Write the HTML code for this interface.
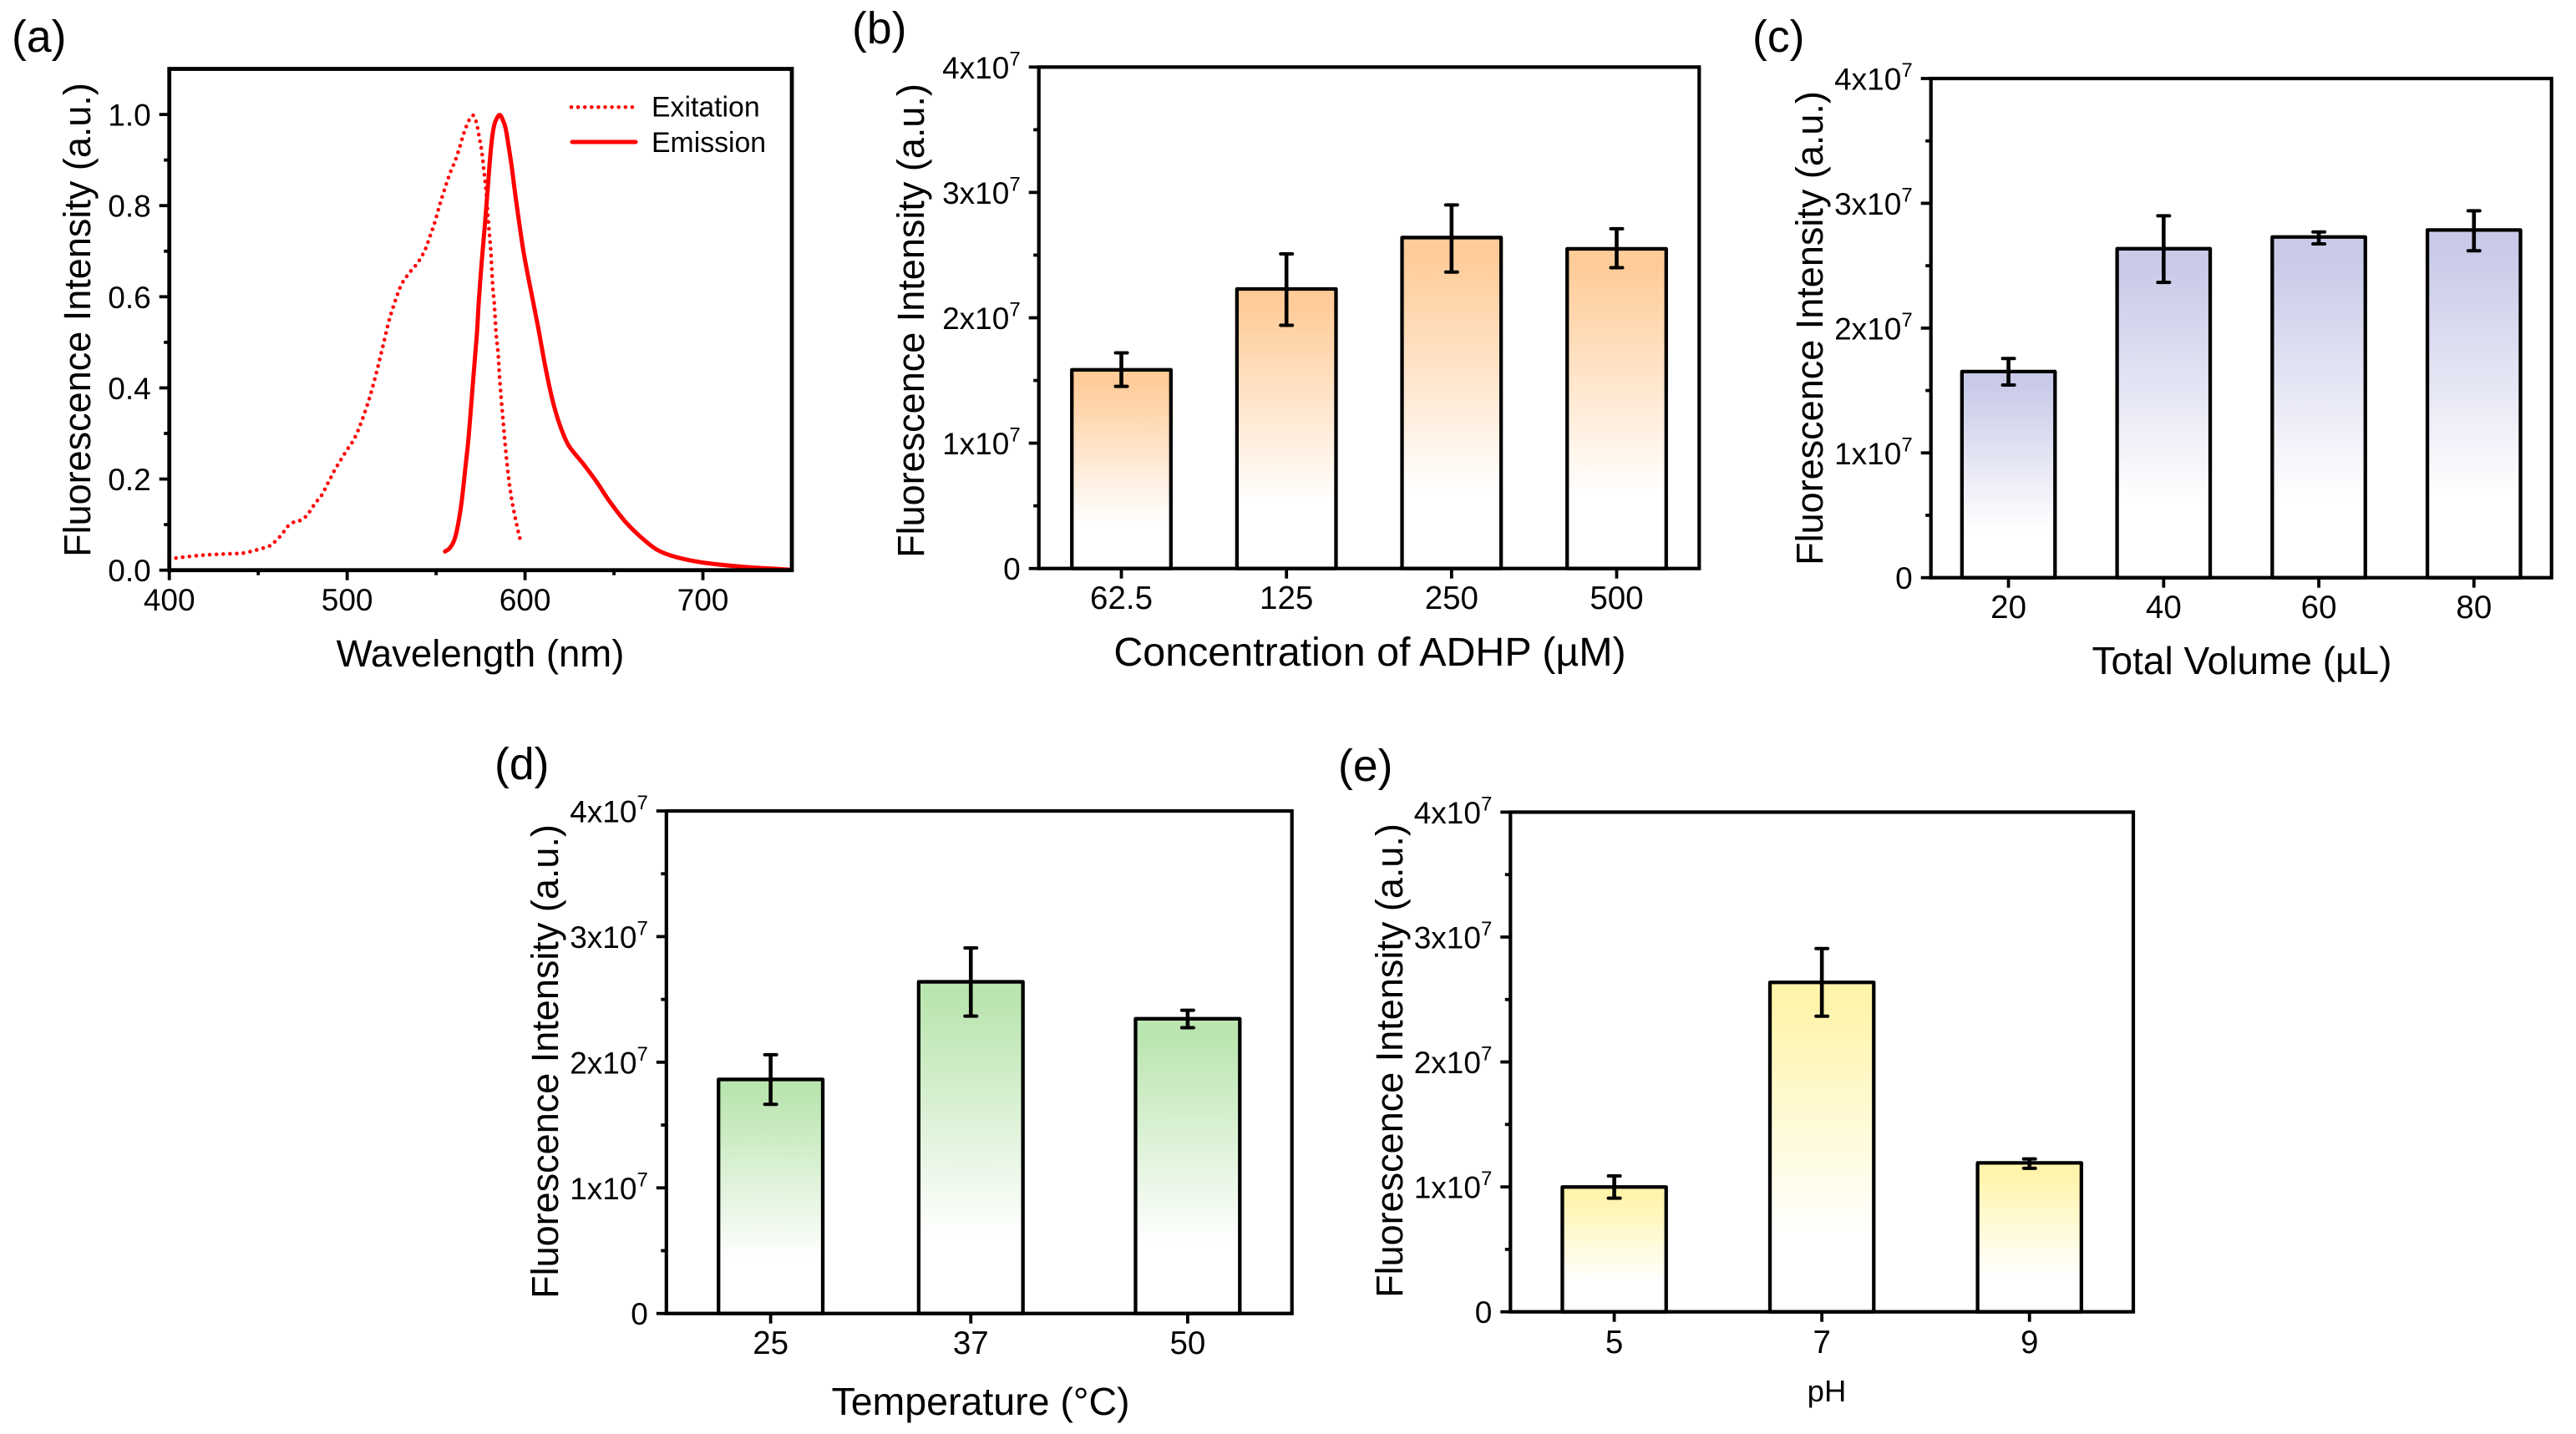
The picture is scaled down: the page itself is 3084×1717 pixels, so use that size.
<!DOCTYPE html>
<html lang="en">
<head>
<meta charset="utf-8">
<title>Fluorescence optimisation panels</title>
<style>
  html, body { margin: 0; padding: 0; background: #fff; }
  svg { display: block; font-family: "Liberation Sans", Arial, sans-serif; fill: #000; }
  .panel-letter { font-size: 53.5px; }
  .y-title { font-size: 45px; }
  .x-title { font-size: 45.5px; }
  .tick { font-size: 38.5px; }
  .y-tick { font-size: 37px; }
  #panel-a .tick { font-size: 37px; }
  .ph-title { font-size: 36.5px; }
  .legend-text { font-size: 33.8px; }
</style>
</head>
<body>
<svg id="figure" width="3084" height="1717" viewBox="0 0 3084 1717" xmlns="http://www.w3.org/2000/svg">
  <defs>
    <linearGradient id="grad-b" x1="0" y1="0" x2="0" y2="1"><stop offset="0.06" stop-color="#FFCC99"/><stop offset="0.77" stop-color="#FFFFFF"/></linearGradient>
    <linearGradient id="grad-c" x1="0" y1="0" x2="0" y2="1"><stop offset="0.06" stop-color="#C8CAE8"/><stop offset="0.77" stop-color="#FFFFFF"/></linearGradient>
    <linearGradient id="grad-d" x1="0" y1="0" x2="0" y2="1"><stop offset="0.06" stop-color="#BBE5B0"/><stop offset="0.77" stop-color="#FFFFFF"/></linearGradient>
    <linearGradient id="grad-e" x1="0" y1="0" x2="0" y2="1"><stop offset="0.06" stop-color="#FFF4AA"/><stop offset="0.77" stop-color="#FFFFFF"/></linearGradient>
  </defs>

  <rect x="0" y="0" width="3084" height="1717" fill="#fff"/>

  <text class="panel-letter" x="14" y="62">(a)</text>
  <text class="panel-letter" x="1020" y="52">(b)</text>
  <text class="panel-letter" x="2098" y="62">(c)</text>
  <text class="panel-letter" x="592" y="933">(d)</text>
  <text class="panel-letter" x="1602" y="935">(e)</text>

  <g id="panel-a"></g>
  <g id="panel-b"></g>
  <g id="panel-c"></g>
  <g id="panel-d"></g>
  <g id="panel-e"></g>

  <text class="y-title" text-anchor="middle" transform="translate(108 383) rotate(-90)">Fluorescence Intensity (a.u.)</text>
  <text class="x-title" text-anchor="middle" x="575" y="798">Wavelength (nm)</text>
  <text class="y-title" text-anchor="middle" transform="translate(1106 384) rotate(-90)">Fluorescence Intensity (a.u.)</text>
  <text class="x-title" text-anchor="middle" style="font-size:48.4px" x="1640" y="797">Concentration of ADHP (µM)</text>
  <text class="y-title" text-anchor="middle" transform="translate(2182 393) rotate(-90)">Fluorescence Intensity (a.u.)</text>
  <text class="x-title" text-anchor="middle" style="font-size:46px" x="2684" y="807">Total Volume (µL)</text>
  <text class="y-title" text-anchor="middle" transform="translate(668 1271) rotate(-90)">Fluorescence Intensity (a.u.)</text>
  <text class="x-title" text-anchor="middle" style="font-size:46.5px" x="1174" y="1694">Temperature (°C)</text>
  <text class="y-title" text-anchor="middle" transform="translate(1679 1270) rotate(-90)">Fluorescence Intensity (a.u.)</text>
  <text class="ph-title" text-anchor="middle" x="2187" y="1678">pH</text>

  <line x1="684" y1="128.3" x2="762" y2="128.3" stroke="#f00" stroke-width="4.6" stroke-linecap="round" stroke-dasharray="0 8.1"/>
  <text class="legend-text" x="780" y="139.5">Exitation</text>
  <line x1="685" y1="170" x2="761" y2="170" stroke="#f00" stroke-width="5" stroke-linecap="round"/>
  <text class="legend-text" x="780" y="182">Emission</text>
</svg>

<script>
// Panel (a) spectra
const excitationWavelength = [400,419,438.3,442,449.3,456.6,459.5,462.5,464.8,467,470.7,474.3,477.3,479.5,481.7,483.9,486.2,488,489.8,491.6,493.3,499.6,503.5,507,511.6,514.6,517.5,520.6,523.3,525.5,528,530.8,534.9,539.9,543.8,546.5,549,552.1,555.6,558.1,560.9,563.4,565.6,568.4,570.9,572.8,574.2,575.6,576.9,578.1,579.5,580.8,581.8,582.8,583.7,584.9,585.8,587.9,590,592.3,595.3,597.7];
const excitationValues = [0.025,0.033,0.0366,0.0378,0.0446,0.0537,0.063,0.075,0.0866,0.0976,0.1067,0.11,0.12,0.132,0.145,0.156,0.1676,0.182,0.196,0.209,0.222,0.262,0.285,0.315,0.366,0.406,0.45,0.5,0.544,0.573,0.602,0.629,0.652,0.676,0.703,0.732,0.76,0.8026,0.846,0.874,0.9,0.93,0.9587,0.9866,0.998,0.98,0.951,0.921,0.876,0.8325,0.759,0.698,0.625,0.58,0.52,0.475,0.416,0.317,0.229,0.16,0.1,0.06];
const emissionWavelength = [555,558,561,564,566.3,568.4,570.8,572.9,574,575.6,577.2,578.7,580,581.3,582.7,584.2,585.8,587.4,589,590.5,592.4,594.4,596.8,599.1,601.7,604.5,607.5,610.5,613.3,616.3,619.9,624.6,632.7,640.2,647.7,656.7,665.6,674.6,685,700,724,750];
const emissionValues = [0.041,0.05,0.076,0.14,0.219,0.2975,0.416,0.517,0.59,0.675,0.748,0.8215,0.8885,0.943,0.977,0.992,0.999,0.989,0.971,0.937,0.8885,0.8276,0.76,0.70,0.645,0.59,0.53,0.465,0.41,0.36,0.315,0.273,0.2335,0.194,0.15,0.105,0.071,0.044,0.0286,0.0167,0.007,0.001];
const spectraXTicks = [400,500,600,700];
const spectraXMinorTicks = [450,550,650];
const spectraYTicks = [0,0.2,0.4,0.6,0.8,1.0];
const spectraYMinorTicks = [0.1,0.3,0.5,0.7,0.9];

// Shared intensity axis for the bar panels
const intensityTicks = [0,1e7,2e7,3e7,4e7];
const intensityMinorTicks = [0.5e7,1.5e7,2.5e7,3.5e7];

// Panel (b)
const concentrationLabels = ['62.5','125','250','500'];
const concentrationPositions = [1,2,3,4];
const concentrationValues = [1.585e7,2.23e7,2.64e7,2.55e7];
const concentrationErrHigh = [1.72e7,2.51e7,2.90e7,2.71e7];
const concentrationErrLow = [1.453e7,1.94e7,2.365e7,2.40e7];

// Panel (c)
const volumeLabels = ['20','40','60','80'];
const volumePositions = [1,2,3,4];
const volumeValues = [1.652e7,2.636e7,2.73e7,2.786e7];
const volumeErrHigh = [1.756e7,2.90e7,2.77e7,2.94e7];
const volumeErrLow = [1.544e7,2.366e7,2.675e7,2.62e7];

// Panel (d)
const temperatureLabels = ['25','37','50'];
const temperaturePositions = [25,37,50];
const temperatureValues = [1.863e7,2.64e7,2.346e7];
const temperatureErrHigh = [2.06e7,2.91e7,2.414e7];
const temperatureErrLow = [1.665e7,2.367e7,2.275e7];

// Panel (e)
const phLabels = ['5','7','9'];
const phPositions = [5,7,9];
const phValues = [0.999e7,2.637e7,1.192e7];
const phErrHigh = [1.088e7,2.908e7,1.224e7];
const phErrLow = [0.91e7,2.366e7,1.149e7];

const SVG_NS = 'http://www.w3.org/2000/svg';

function make(tag, parent, attrs) {
  const node = document.createElementNS(SVG_NS, tag);
  for (const key in attrs) node.setAttribute(key, attrs[key]);
  parent.appendChild(node);
  return node;
}

function linearScale(d0, d1, r0, r1) {
  return function (v) { return r0 + (v - d0) / (d1 - d0) * (r1 - r0); };
}

function smoothPath(xs, ys) {
  let d = 'M' + xs[0].toFixed(2) + ' ' + ys[0].toFixed(2);
  const n = xs.length;
  for (let i = 0; i < n - 1; i++) {
    const p0 = Math.max(i - 1, 0), p2 = i + 1, p3 = Math.min(i + 2, n - 1);
    const c1x = xs[i] + (xs[p2] - xs[p0]) / 6, c1y = ys[i] + (ys[p2] - ys[p0]) / 6;
    const c2x = xs[p2] - (xs[p3] - xs[i]) / 6, c2y = ys[p2] - (ys[p3] - ys[i]) / 6;
    d += 'C' + c1x.toFixed(2) + ' ' + c1y.toFixed(2) + ' ' + c2x.toFixed(2) + ' ' + c2y.toFixed(2) + ' ' + xs[p2].toFixed(2) + ' ' + ys[p2].toFixed(2);
  }
  return d;
}

function drawYTick(group, box, y, major, label, exponent) {
  const line = make('line', group, { x1: box.left - (major ? 12 : 6.5), x2: box.left, y1: y, y2: y, stroke: '#000', 'stroke-width': 3.8 });
  
  
  if (!major) return;
  const text = make('text', group, { class: 'y-tick', x: box.left - 22, y: y + 13.5, 'text-anchor': 'end' });
  
  
  text.appendChild(document.createTextNode(label));
  if (exponent) {
    const sup = make('tspan', text, { dy: -15.5, 'font-size': 24 });
    
    
    sup.textContent = exponent;
  }
}

function drawXTick(group, box, x, major, label) {
  const line = make('line', group, { x1: x, x2: x, y1: box.bottom, y2: box.bottom + (major ? 12 : 6), stroke: '#000', 'stroke-width': 3.8 });
  
  
  if (!major) return;
  const text = make('text', group, { class: 'tick', x: x, y: box.labelY, 'text-anchor': 'middle' });
  
  
  text.textContent = label;
}

function drawFrame(group, box, width) {
  const frame = make('rect', group, { x: box.left, y: box.top, width: box.right - box.left, height: box.bottom - box.top, fill: 'none', stroke: '#000', 'stroke-width': width });
  
  
}

function drawSpectra() {
  const group = document.getElementById('panel-a');
  const box = { left: 202.7, right: 948, top: 82.5, bottom: 682.7, labelY: 731 };
  const x = linearScale(400, 750, box.left, box.right);
  const y = linearScale(0, 1.1, box.bottom, box.top);

  const excitation = make('path', group, {
    d: smoothPath(excitationWavelength.map(x), excitationValues.map(y)),
    fill: 'none', stroke: '#f00', 'stroke-width': 4.6, 'stroke-linecap': 'round', 'stroke-dasharray': '0 8.1'
  });
  
  

  const emission = make('path', group, {
    d: smoothPath(emissionWavelength.map(x), emissionValues.map(y)),
    fill: 'none', stroke: '#f00', 'stroke-width': 5, 'stroke-linecap': 'round', 'stroke-linejoin': 'round'
  });
  
  

  drawFrame(group, box, 4.8);
  spectraYTicks.forEach(function (v) { drawYTick(group, box, y(v), true, v.toFixed(1), ''); });
  spectraYMinorTicks.forEach(function (v) { drawYTick(group, box, y(v), false); });
  spectraXTicks.forEach(function (v) { drawXTick(group, box, x(v), true, String(v)); });
  spectraXMinorTicks.forEach(function (v) { drawXTick(group, box, x(v), false); });
}

function drawBars(panel, box, xLimits, barWidth, gradient, labels, positions, values, errHigh, errLow) {
  const group = document.getElementById(panel);
  const x = linearScale(xLimits[0], xLimits[1], box.left, box.right);
  const y = linearScale(0, 4e7, box.bottom, box.top);

  positions.forEach(function (p, i) {
    const left = x(p - barWidth / 2), right = x(p + barWidth / 2);
    const bar = make('rect', group, { x: left, y: y(values[i]), width: right - left, height: box.bottom - y(values[i]), fill: 'url(#' + gradient + ')', stroke: '#000', 'stroke-width': 4.3, 'stroke-linejoin': 'round' });
    
    
  });

  drawFrame(group, box, 4.2);

  positions.forEach(function (p, i) {
    const cx = x(p);
    const stem = make('line', group, { x1: cx, x2: cx, y1: y(errHigh[i]), y2: y(errLow[i]), stroke: '#000', 'stroke-width': 4.6 });
    
    
    [errHigh[i], errLow[i]].forEach(function (v) {
      const cap = make('line', group, { x1: cx - 7, x2: cx + 7, y1: y(v), y2: y(v), stroke: '#000', 'stroke-width': 4, 'stroke-linecap': 'round' });
      
      
    });
    drawXTick(group, box, cx, true, labels[i]);
  });

  intensityTicks.forEach(function (v) {
    const mantissa = v / 1e7;
    drawYTick(group, box, y(v), true, v === 0 ? '0' : mantissa + 'x10', v === 0 ? '' : '7');
  });
  intensityMinorTicks.forEach(function (v) { drawYTick(group, box, y(v), false); });
}

drawSpectra();
drawBars('panel-b', { left: 1243.7, right: 2034.3, top: 80.3, bottom: 680.7, labelY: 729 }, [0.5, 4.5], 0.6, 'grad-b', concentrationLabels, concentrationPositions, concentrationValues, concentrationErrHigh, concentrationErrLow);
drawBars('panel-c', { left: 2311.7, right: 3054.7, top: 94, bottom: 691.7, labelY: 740 }, [0.5, 4.5], 0.6, 'grad-c', volumeLabels, volumePositions, volumeValues, volumeErrHigh, volumeErrLow);
drawBars('panel-d', { left: 797.8, right: 1546.7, top: 971, bottom: 1572.7, labelY: 1621 }, [18.75, 56.25], 6.25, 'grad-d', temperatureLabels, temperaturePositions, temperatureValues, temperatureErrHigh, temperatureErrLow);
drawBars('panel-e', { left: 1808.3, right: 2554, top: 972.4, bottom: 1570.7, labelY: 1620 }, [4, 10], 1, 'grad-e', phLabels, phPositions, phValues, phErrHigh, phErrLow);
</script>
</body>
</html>
